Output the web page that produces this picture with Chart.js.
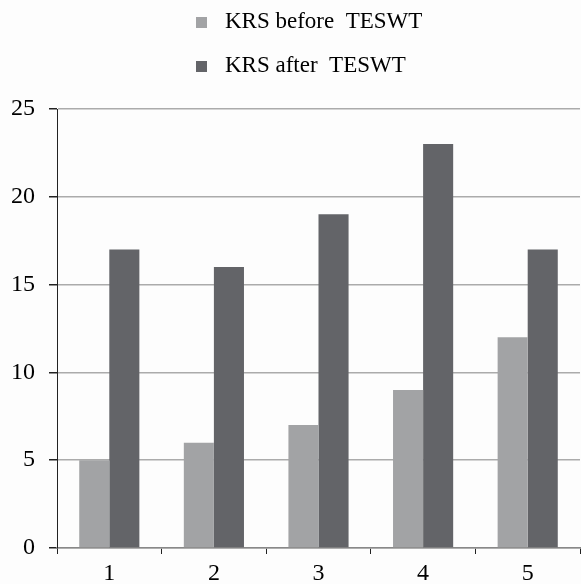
<!DOCTYPE html>
<html>
<head>
<meta charset="utf-8">
<script src="https://cdn.jsdelivr.net/npm/chart.js@4.4.1/dist/chart.umd.min.js"></script>
<style>
  html, body { margin: 0; padding: 0; background: #fdfdfd; }
  #wrap { width: 581px; height: 584px; position: relative; }
</style>
</head>
<body>
<div id="wrap"><canvas id="ksChart" width="581" height="584"></canvas></div>
<script>
const categories = ["1", "2", "3", "4", "5"];
const krsBefore = [5, 6, 7, 9, 12];
const krsAfter = [17, 16, 19, 23, 17];
const seriesNames = ["KRS before  TESWT", "KRS after  TESWT"];
const yTicks = [0, 5, 10, 15, 20, 25];

const lightGrey = "#a2a3a5";
const darkGrey = "#636468";
const serif = "'Liberation Serif', 'DejaVu Serif', serif";

// legend stacked in two rows above the plot, drawn on the canvas
const ksLegend = {
    id: "ksLegend",
    afterDraw(chart) {
        const ctx = chart.ctx;
        ctx.save();
        ctx.font = "23px " + serif;
        ctx.textBaseline = "alphabetic";
        chart.data.datasets.forEach(function (ds, i) {
            const y = 17 + i * 44;
            ctx.fillStyle = ds.backgroundColor;
            ctx.fillRect(196, y, 11, 11);
            ctx.fillStyle = "#000";
            ctx.fillText(ds.label, 225, y + 11);
        });
        ctx.restore();
    }
};

new Chart(document.getElementById("ksChart"), {
    type: "bar",
    data: {
        labels: categories,
        datasets: [
            { label: seriesNames[0], data: krsBefore, backgroundColor: lightGrey },
            { label: seriesNames[1], data: krsAfter, backgroundColor: darkGrey }
        ]
    },
    options: {
        responsive: false,
        animation: false,
        layout: { padding: { top: 109, right: 1, left: 0, bottom: 0 } },
        datasets: { bar: { categoryPercentage: 0.575, barPercentage: 1.0 } },
        plugins: {
            legend: { display: false },
            tooltip: { enabled: false }
        },
        scales: {
            x: {
                grid: {
                    offset: true,
                    drawOnChartArea: false,
                    tickLength: 6,
                    tickColor: "#222",
                    lineWidth: 1
                },
                border: { color: "#888", width: 1.5 },
                ticks: {
                    color: "#000",
                    font: { family: serif, size: 24 },
                    padding: 5
                },
                afterFit(scale) { scale.height = 36; }
            },
            y: {
                min: 0,
                max: 25,
                afterBuildTicks(scale) {
                    scale.ticks = yTicks.map(function (v) { return { value: v }; });
                },
                grid: {
                    color: "#ababab",
                    lineWidth: 1.5,
                    tickLength: 8,
                    tickColor: "#222"
                },
                border: { color: "#222", width: 1 },
                ticks: {
                    color: "#000",
                    font: { family: serif, size: 24 },
                    padding: 14
                },
                afterFit(scale) { scale.width = 57; }
            }
        }
    },
    plugins: [ksLegend]
});
</script>
</body>
</html>
